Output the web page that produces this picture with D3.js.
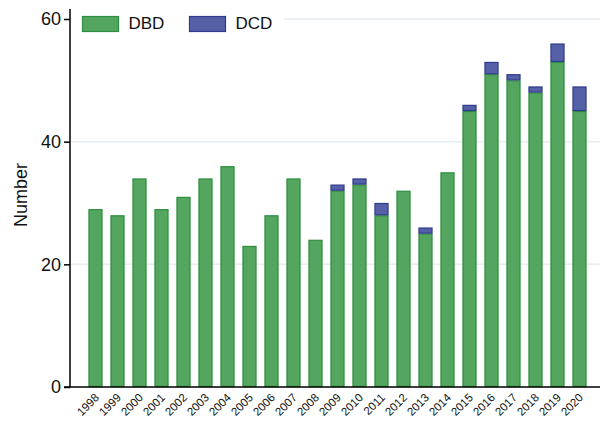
<!DOCTYPE html>
<html>
<head>
<meta charset="utf-8">
<script src="https://cdn.jsdelivr.net/npm/d3@7"></script>
<style>
  body { margin: 0; background: #fff; }
  svg { font-family: "Liberation Sans", Arial, sans-serif; }
</style>
</head>
<body>
<svg id="chart" width="604" height="422"></svg>
<script>
// ---------------------------------------------
// Data
// ---------------------------------------------
let years = ['1998', '1999', '2000', '2001', '2002', '2003', '2004', '2005',
  '2006', '2007', '2008', '2009', '2010', '2011', '2012', '2013', '2014',
  '2015', '2016', '2017', '2018', '2019', '2020'];
let dbdValues = [29, 28, 34, 29, 31, 34, 36, 23, 28, 34, 24, 32, 33, 28, 32,
  25, 35, 45, 51, 50, 48, 53, 45];
let dcdValues = [0, 0, 0, 0, 0, 0, 0, 0, 0, 0, 0, 1, 1, 2, 0, 1, 0, 1, 2, 1,
  1, 3, 4];
let yTicks = [0, 20, 40, 60];

let seriesNames = ['DBD', 'DCD'];
let fills = {DBD: '#53a55f', DCD: '#5560a7'};
let strokes = {DBD: '#2f8f3f', DCD: '#2f3b8e'};

// ---------------------------------------------
// Layout
// ---------------------------------------------
let svg = d3.select('#chart');
let margin = {top: 19, right: 4, bottom: 35, left: 70};
let width = 604 - margin.left - margin.right;
let height = 422 - margin.top - margin.bottom;

let g = svg.append('g')
    .attr('transform', `translate(${margin.left},${margin.top})`);

let x = d3.scaleBand()
    .domain(years)
    .range([14.5, 14.5 + 22 * years.length])
    .paddingInner(0.36)
    .paddingOuter(0.18);

let y = d3.scaleLinear()
    .domain([0, 60])
    .range([height, 0]);

// gridlines
g.append('g')
  .selectAll('line')
  .data(yTicks.filter((d) => d > 0))
  .join('line')
    .attr('x1', 0)
    .attr('x2', width)
    .attr('y1', (d) => y(d))
    .attr('y2', (d) => y(d))
    .attr('stroke', '#e6edf1')
    .attr('stroke-width', 1.5);

// stacked data
let rows = years.map((yr, i) => ({year: yr, DBD: dbdValues[i], DCD: dcdValues[i]}));
let stacked = d3.stack().keys(seriesNames)(rows);

g.append('g')
  .selectAll('g')
  .data(stacked)
  .join('g')
    .attr('fill', (s) => fills[s.key])
    .attr('stroke', (s) => strokes[s.key])
  .selectAll('rect')
  .data((s) => s.filter((d) => d[1] > d[0]))
  .join('rect')
    .attr('x', (d) => x(d.data.year) + 0.5)
    .attr('y', (d) => y(d[1]) + 0.5)
    .attr('width', x.bandwidth() - 1)
    .attr('height', (d) => y(d[0]) - y(d[1]) - 1)
    .attr('stroke-width', 1.2);

// y axis
let yAxis = g.append('g')
    .call(d3.axisLeft(y).tickValues(yTicks).tickSize(6).tickPadding(3));
yAxis.select('.domain').attr('d', `M0,-10V${height}`).attr('stroke', '#000').attr('stroke-width', 1.5);
yAxis.selectAll('.tick line').attr('stroke', '#000').attr('stroke-width', 1.5);
yAxis.selectAll('.tick text')
    .attr('font-size', 18)
    .attr('fill', '#111')
    .attr('font-family', '"Liberation Sans", Arial, sans-serif');

// x axis
let xAxis = g.append('g')
    .attr('transform', `translate(0,${height})`)
    .call(d3.axisBottom(x).tickSize(0).tickPadding(4));
xAxis.select('.domain').attr('d', `M-6,0H${width}`).attr('stroke', '#000').attr('stroke-width', 1.5);
xAxis.selectAll('.tick text')
    .attr('font-size', 11.5)
    .attr('fill', '#111')
    .attr('font-family', '"Liberation Sans", Arial, sans-serif')
    .attr('text-anchor', 'end')
    .attr('dy', 0)
    .attr('transform', 'translate(1.5,8.5) rotate(-45)');

// y label
svg.append('text')
    .attr('transform', 'translate(27,195) rotate(-90)')
    .attr('text-anchor', 'middle')
    .attr('font-size', 18)
    .attr('fill', '#111')
    .text('Number');

// legend
let legend = svg.append('g').attr('transform', 'translate(72,8)');
legend.append('rect')
    .attr('x', 0).attr('y', 0)
    .attr('width', 212).attr('height', 30)
    .attr('fill', '#fff');
let items = legend.selectAll('g.item')
  .data(seriesNames)
  .join('g')
    .attr('class', 'item')
    .attr('transform', (d, i) => `translate(${10.5 + i * 107},8.5)`);
items.append('rect')
    .attr('width', 36).attr('height', 15)
    .attr('fill', (d) => fills[d])
    .attr('stroke', (d) => strokes[d])
    .attr('stroke-width', 1.2);
items.append('text')
    .attr('x', 46).attr('y', 12.5)
    .attr('font-size', 17)
    .attr('fill', '#111')
    .text((d) => d);
</script>
</body>
</html>
